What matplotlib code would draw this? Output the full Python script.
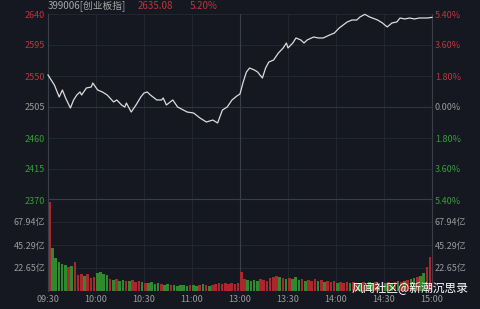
import matplotlib
matplotlib.use("Agg")
import matplotlib.pyplot as plt

plt.rcParams["font.family"] = ["Noto Sans CJK SC", "DejaVu Sans"]

# intraday price (minute from 09:30, lunch removed)
minutes = [0, 2, 4, 7, 9, 11, 14, 16, 18, 20, 21, 24, 27, 28, 31, 34, 37, 41, 43, 46,
           48, 49, 52, 55, 58, 60, 62, 64, 68, 71, 72, 74, 78, 81, 87, 91, 95, 99, 103, 106,
           109, 112, 115, 118, 120, 122, 124, 126, 129, 131, 134, 136, 138, 141, 144, 147,
           149, 150, 153, 155, 158, 160, 162, 166, 169, 172, 176, 179, 182, 187, 190, 193,
           195, 198, 201, 206, 209, 212, 215, 218, 220, 223, 226, 229, 232, 237, 240]
prices = [2551.5, 2544.2, 2536.9, 2519.5, 2529.7, 2518.1, 2503.5, 2515.2, 2522.4, 2526.8,
          2522.4, 2532.6, 2534.0, 2539.8, 2529.7, 2526.8, 2522.4, 2512.3, 2515.2, 2507.9,
          2505.0, 2510.8, 2497.7, 2507.9, 2519.5, 2525.3, 2526.8, 2522.4, 2515.2, 2515.2,
          2518.1, 2507.9, 2515.2, 2505.0, 2497.7, 2496.3, 2489.0, 2483.2, 2486.1, 2481.8,
          2500.6, 2505.0, 2515.2, 2520.9, 2523.9, 2541.3, 2555.8, 2561.6, 2558.7, 2555.8,
          2547.1, 2561.6, 2570.3, 2573.2, 2583.4, 2590.7, 2597.9, 2590.7, 2597.9, 2605.2,
          2602.3, 2597.9, 2602.3, 2606.6, 2605.2, 2605.2, 2609.5, 2612.4, 2619.7, 2628.4,
          2631.3, 2631.3, 2635.7, 2639.5, 2635.7, 2631.3, 2627.0, 2621.2, 2627.0, 2628.4,
          2634.2, 2632.8, 2634.2, 2632.8, 2634.2, 2634.2, 2635.1]

prev_close = 2504.83
last_price = "2635.08"
last_pct = "5.20%"
price_ticks = [2370, 2415, 2460, 2505, 2550, 2595, 2640]
pct_labels = ["5.40%", "3.60%", "1.80%", "0.00%", "1.80%", "3.60%", "5.40%"]

# volume in 亿, one bar per 2 minutes; r = up, g = down
vol_minutes = list(range(0, 241, 2))
volumes = [88, 42, 32, 29, 27, 26, 24, 25, 29, 16, 17, 15, 17, 13, 14, 18, 19, 17, 16, 12,
           11, 12, 10, 11, 10, 10, 11, 9, 10, 9, 8, 8, 9, 7, 8, 7, 6, 7, 6, 6,
           5, 6, 6, 5, 6, 6, 5, 6, 7, 6, 5, 6, 7, 8, 7, 8, 7, 8, 7, 8,
           19, 12, 11, 10, 11, 10, 12, 11, 10, 13, 14, 15, 14, 13, 12, 13, 12, 14, 11, 12,
           10, 11, 10, 12, 10, 11, 9, 10, 9, 10, 8, 9, 8, 9, 8, 9, 8, 8, 9, 8,
           9, 8, 9, 8, 9, 8, 9, 8, 9, 10, 9, 10, 11, 12, 13, 14, 15, 18, 24, 33, 30]
vol_dir = ("rgggggrgrrrgrrrggggrgrggrgrrrgrggggrgg"
           "rgggggrggrgrgrrrrrrrrrrrgggg"
           "rrrrrrgrgrgggrgrrrgrgrrrgrrrgrrgrrgg"
           "rgrgrgrgrgrggrggrrrrrr")
vol_ticks = [22.65, 45.29, 67.94]

time_ticks = [0, 30, 60, 90, 120, 150, 180, 210, 240]
time_labels = ["09:30", "10:00", "10:30", "11:00", "13:00", "13:30", "14:00", "14:30", "15:00"]

bg = "#151820"
grid = "#22262e"
red = "#c0343c"
green = "#3c9a3c"
bar_red = "#a8282e"
bar_green = "#2f8a2f"
grey = "#9a9a9a"

fig = plt.figure(figsize=(4.8, 3.09), dpi=100, facecolor=bg)
ax = fig.add_axes([0.1, 1 - 200 / 309, 0.8, 186 / 309], facecolor=bg)
axv = fig.add_axes([0.1, 1 - 291 / 309, 0.8, 92 / 309], facecolor=bg)

ax.set_xlim(0, 240)
ax.set_ylim(2370, 2640)
for p in price_ticks:
    ax.axhline(p, color=grid, lw=0.8, zorder=0)
for t in time_ticks:
    ax.axvline(t, color="#3a3e48" if t == 120 else grid, lw=0.8, zorder=0)
ax.axhline(prev_close, color="#30343d", lw=0.8, zorder=0)
ax.plot(minutes, prices, color="#dcdcdc", lw=0.9, clip_on=False, zorder=3)

ax.set_yticks(price_ticks)
ax.set_yticklabels([str(p) for p in price_ticks])
ax.set_xticks([])
for lbl, p in zip(ax.get_yticklabels(), price_ticks):
    lbl.set_color(red if p > 2505 else green if p < 2505 else grey)
ax.tick_params(axis="y", length=0, labelsize=6.5, pad=2)

axr = ax.twinx()
axr.set_ylim(2370, 2640)
axr.set_yticks(price_ticks)
axr.set_yticklabels(pct_labels)
for lbl, p in zip(axr.get_yticklabels(), price_ticks):
    lbl.set_color(red if p > 2505 else green if p < 2505 else grey)
axr.tick_params(axis="y", length=0, labelsize=6.5, pad=2)

cols = [bar_red if c == "r" else bar_green for c in vol_dir]
axv.set_xlim(0, 240)
axv.set_ylim(0, 90.58)
for v in vol_ticks:
    axv.axhline(v, color=grid, lw=0.8, zorder=0)
for t in time_ticks:
    axv.axvline(t, color="#3a3e48" if t == 120 else grid, lw=0.8, zorder=0)
axv.bar(vol_minutes, volumes, width=1.6, color=cols, align="edge", zorder=2)
axv.set_yticks(vol_ticks)
axv.set_yticklabels([f"{v:.2f}亿" for v in vol_ticks], color=grey)
axv.tick_params(axis="y", length=0, labelsize=6.5, pad=2)
axv.set_xticks(time_ticks)
axv.set_xticklabels(time_labels, color=grey)
axv.tick_params(axis="x", length=0, labelsize=6.5, pad=3)

axvr = axv.twinx()
axvr.set_ylim(0, 90.58)
axvr.set_yticks(vol_ticks)
axvr.set_yticklabels([f"{v:.2f}亿" for v in vol_ticks], color=grey)
axvr.tick_params(axis="y", length=0, labelsize=6.5, pad=2)

for a in (ax, axr, axv, axvr):
    for s in a.spines.values():
        s.set_visible(False)
for a in (ax, axv):
    a.spines["left"].set_visible(True)
    a.spines["left"].set_color("#3a3e48")
    a.spines["right"].set_visible(True)
    a.spines["right"].set_color("#3a3e48")
axv.spines["top"].set_visible(True)
axv.spines["top"].set_color("#3a3e48")

fig.text(48 / 480, 1 - 6 / 309, "399006[创业板指]", color="#a8a8a8", fontsize=7, va="center")
fig.text(138 / 480, 1 - 6 / 309, last_price, color=red, fontsize=7, va="center")
fig.text(190 / 480, 1 - 6 / 309, last_pct, color=red, fontsize=7, va="center")
fig.text(468 / 480, 1 - 289 / 309, "风闻社区@新潮沉思录", color="white", fontsize=8.5,
         ha="right", va="center")

fig.savefig("out.png", dpi=100, facecolor=bg)
